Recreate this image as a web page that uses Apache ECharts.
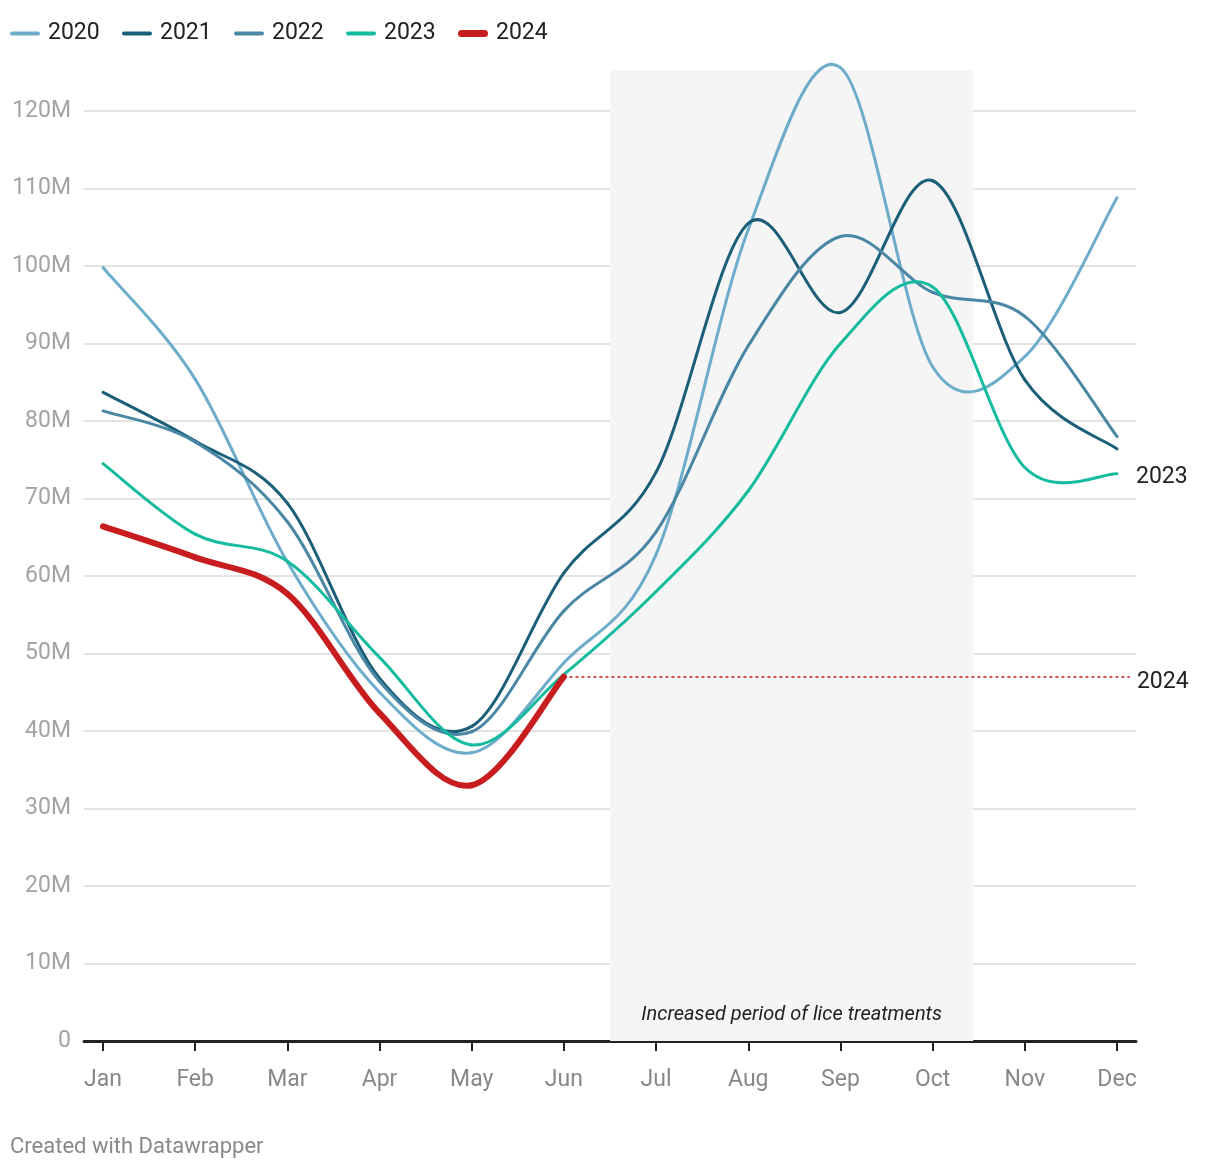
<!DOCTYPE html>
<html>
<head>
<meta charset="utf-8">
<script src="https://cdn.jsdelivr.net/npm/echarts@6/dist/echarts.min.js"></script>
<style>
html,body{margin:0;padding:0;background:#fff;}
#chart{width:1220px;height:1168px;}
</style>
</head>
<body>
<div id="chart"></div>
<script>
// Monthly values (millions)
const months = ['Jan','Feb','Mar','Apr','May','Jun','Jul','Aug','Sep','Oct','Nov','Dec'];
const years = ['2020','2021','2022','2023','2024'];
const v2020 = [99.8, 85.4, 61.8, 45.0, 37.2, 48.8, 62.8, 104.7, 125.6, 87.0, 88.3, 108.8];
const v2021 = [83.7, 77.4, 69.4, 46.8, 40.6, 60.4, 73.4, 105.5, 94.0, 111.0, 85.3, 76.4];
const v2022 = [81.3, 77.3, 67.0, 46.4, 39.9, 55.5, 65.7, 89.7, 103.8, 96.6, 93.5, 78.0];
const v2023 = [74.5, 65.4, 61.9, 49.5, 38.2, 47.3, 58.0, 71.0, 90.0, 97.3, 74.0, 73.2];
const v2024 = [66.4, 62.4, 57.7, 42.3, 33.0, 47.0];
const yTicks = [0,10,20,30,40,50,60,70,80,90,100,110,120];
const shadeStart = 5.5, shadeEnd = 9.44, shadeTop = 125.3;
const shadeLabel = 'Increased period of lice treatments';
const refLineEnd = 11.14;

const colors = {'2020':'#6eaccb','2021':'#1b5e78','2022':'#4a87a5','2023':'#14bb9e','2024':'#c81d1f'};
const toPts = arr => arr.map((v,i)=>[i,v]);
const FONT = 'Roboto';

const thinIcon = 'path://M2,0 L28,0 A2,2 0 0 1 28,4 L2,4 A2,2 0 0 1 2,0 Z';
const thickIcon = 'path://M3.5,0 L26.5,0 A3.5,3.5 0 0 1 26.5,7 L3.5,7 A3.5,3.5 0 0 1 3.5,0 Z';

// Cardinal (Catmull-Rom) curve segments drawn through the axis scales
function curveSeries(name, vals, width, z, endLabel) {
  const color = colors[name];
  const n = vals.length;
  return {
    name, type:'custom', data: toPts(vals), z, silent:true,
    encode:{x:0, y:1},
    itemStyle:{color},
    renderItem: function(params, api) {
      const i = params.dataIndex;
      const p = k => { const j = Math.max(0, Math.min(n-1, k)); return api.coord([j, vals[j]]); };
      if (i >= n-1) {
        if (!endLabel) return null;
        const e = p(n-1);
        return {type:'text', x:e[0]+19, y:e[1]+4, silent:true,
          style:{text:endLabel, fill:'#222', fontSize:23, fontFamily:FONT, verticalAlign:'middle', align:'left'}};
      }
      const p0 = p(i-1), p1 = p(i), p2 = p(i+1), p3 = p(i+2);
      return {
        type:'bezierCurve', silent:true,
        shape:{
          x1:p1[0], y1:p1[1], x2:p2[0], y2:p2[1],
          cpx1:p1[0] + (p2[0]-p0[0])/6, cpy1:p1[1] + (p2[1]-p0[1])/6,
          cpx2:p2[0] - (p3[0]-p1[0])/6, cpy2:p2[1] - (p3[1]-p1[1])/6
        },
        style:{stroke:color, lineWidth:width, fill:null, lineCap:'round'}
      };
    }
  };
}

const chart = echarts.init(document.getElementById('chart'), null, {renderer:'canvas'});
chart.setOption({
  animation:false,
  textStyle:{fontFamily:FONT},
  legend:{
    left:5, top:17, itemWidth:30, itemHeight:7, itemGap:22.3,
    data: years.map(y=>({name:y, icon: y==='2024' ? thickIcon : thinIcon})),
    textStyle:{color:'#222', fontSize:23, fontFamily:FONT, padding:[0,0,0,3]},
    selectedMode:false
  },
  grid:{left:84, right:84, top:64.5, bottom:127, containLabel:false},
  xAxis:{
    type:'value', min:-0.206, max:11.206,
    axisLine:{show:true, onZero:false, lineStyle:{color:'#222', width:3}},
    axisTick:{show:true, customValues:months.map((m,i)=>i), length:10, lineStyle:{color:'#222', width:2}},
    axisLabel:{show:true, customValues:months.map((m,i)=>i), formatter:v=>months[Math.round(v)],
      color:'#888', fontSize:23, margin:28, fontFamily:FONT},
    splitLine:{show:false}
  },
  yAxis:{
    type:'value', min:0, max:126, interval:10,
    axisLine:{show:false}, axisTick:{show:false},
    axisLabel:{customValues:yTicks, formatter:v=> v===0 ? '0' : v+'M', color:'#a3a3a3', fontSize:23, margin:13, fontFamily:FONT},
    splitLine:{show:true, showMaxLine:false, lineStyle:{color:'#e3e3e3', width:2}}
  },
  series:[
    {
      name:'shade', type:'line', data:[[shadeStart,0]], symbol:'none', z:1, silent:true,
      lineStyle:{width:0},
      markArea:{
        silent:true,
        itemStyle:{color:'#f5f5f5'},
        label:{show:true, position:'insideBottom', distance:16, color:'#222', fontSize:20, fontStyle:'italic', fontFamily:FONT},
        data:[[{name:shadeLabel, xAxis:shadeStart, yAxis:0},{xAxis:shadeEnd, yAxis:shadeTop}]]
      }
    },
    {
      name:'ref2024', type:'line', data:[[5, v2024[5]]], symbol:'none', z:2, silent:true,
      lineStyle:{width:0},
      markLine:{
        silent:true, symbol:['none','none'],
        lineStyle:{color:colors['2024'], width:1.5, type:[3,3]},
        label:{show:true, position:'end', formatter:'2024', color:'#222', fontSize:23, distance:7, offset:[0,5], fontFamily:FONT},
        data:[[{coord:[5.06, v2024[5]]},{coord:[refLineEnd, v2024[5]]}]]
      }
    },
    curveSeries('2020', v2020, 3, 3),
    curveSeries('2021', v2021, 3, 3),
    curveSeries('2022', v2022, 3, 3),
    curveSeries('2023', v2023, 3, 3, '2023'),
    curveSeries('2024', v2024, 6, 4)
  ],
  graphic:[{
    type:'text', left:10, top:1136,
    style:{text:'Created with Datawrapper', fill:'#888', fontSize:22, fontFamily:FONT}
  }]
});
</script>
</body>
</html>
